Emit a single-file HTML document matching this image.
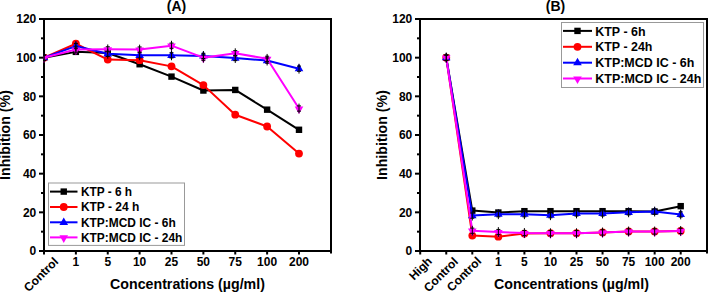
<!DOCTYPE html>
<html><head><meta charset="utf-8"><style>
html,body{margin:0;padding:0;background:#fff;width:708px;height:292px;overflow:hidden}
svg{display:block}
text{font-family:"Liberation Sans",sans-serif;font-weight:bold;fill:#000}
.t{font-size:12px}
.lg{font-size:10.5px}
.ax{font-size:14.2px}
.ti{font-size:14px}
</style></head><body>
<svg width="708" height="292" viewBox="0 0 708 292">
<path d="M44 19 H331 V253.5" fill="none" stroke="#000" stroke-width="2"/>
<path d="M44 18 V251.0" stroke="#000" stroke-width="2"/>
<path d="M39 251.0 H331" stroke="#000" stroke-width="2"/>
<path d="M39 251.00 H44" stroke="#000" stroke-width="2"/>
<text x="36.3" y="255.30" class="t" text-anchor="end">0</text>
<path d="M39 212.33 H44" stroke="#000" stroke-width="2"/>
<text x="36.3" y="216.63" class="t" text-anchor="end">20</text>
<path d="M39 173.67 H44" stroke="#000" stroke-width="2"/>
<text x="36.3" y="177.97" class="t" text-anchor="end">40</text>
<path d="M39 135.00 H44" stroke="#000" stroke-width="2"/>
<text x="36.3" y="139.30" class="t" text-anchor="end">60</text>
<path d="M39 96.33 H44" stroke="#000" stroke-width="2"/>
<text x="36.3" y="100.63" class="t" text-anchor="end">80</text>
<path d="M39 57.67 H44" stroke="#000" stroke-width="2"/>
<text x="36.3" y="61.97" class="t" text-anchor="end">100</text>
<path d="M39 19.00 H44" stroke="#000" stroke-width="2"/>
<text x="36.3" y="23.30" class="t" text-anchor="end">120</text>
<path d="M41 231.67 H44" stroke="#000" stroke-width="2"/>
<path d="M41 193.00 H44" stroke="#000" stroke-width="2"/>
<path d="M41 154.33 H44" stroke="#000" stroke-width="2"/>
<path d="M41 115.67 H44" stroke="#000" stroke-width="2"/>
<path d="M41 77.00 H44" stroke="#000" stroke-width="2"/>
<path d="M41 38.33 H44" stroke="#000" stroke-width="2"/>
<path d="M44.00 251.0 V254.5" stroke="#000" stroke-width="2"/>
<path d="M75.88 251.0 V254.5" stroke="#000" stroke-width="2"/>
<path d="M107.75 251.0 V254.5" stroke="#000" stroke-width="2"/>
<path d="M139.62 251.0 V254.5" stroke="#000" stroke-width="2"/>
<path d="M171.50 251.0 V254.5" stroke="#000" stroke-width="2"/>
<path d="M203.38 251.0 V254.5" stroke="#000" stroke-width="2"/>
<path d="M235.25 251.0 V254.5" stroke="#000" stroke-width="2"/>
<path d="M267.12 251.0 V254.5" stroke="#000" stroke-width="2"/>
<path d="M299.00 251.0 V254.5" stroke="#000" stroke-width="2"/>
<text x="75.88" y="265.7" class="t" text-anchor="middle">1</text>
<text x="107.75" y="265.7" class="t" text-anchor="middle">5</text>
<text x="139.62" y="265.7" class="t" text-anchor="middle">10</text>
<text x="171.50" y="265.7" class="t" text-anchor="middle">25</text>
<text x="203.38" y="265.7" class="t" text-anchor="middle">50</text>
<text x="235.25" y="265.7" class="t" text-anchor="middle">75</text>
<text x="267.12" y="265.7" class="t" text-anchor="middle">100</text>
<text x="299.00" y="265.7" class="t" text-anchor="middle">200</text>
<text transform="translate(59.00 262.4) rotate(-45)" class="t" text-anchor="end">Control</text>
<defs><clipPath id="ca"><rect x="43" y="0" width="300" height="292"/></clipPath></defs><g clip-path="url(#ca)"><path d="M44.00 57.67 L75.88 51.87 L107.75 53.03 L139.62 64.24 L171.50 76.61 L203.38 90.53 L235.25 89.95 L267.12 109.67 L299.00 129.78" fill="none" stroke="#000" stroke-width="2" stroke-linejoin="round"/>
<rect x="40.80" y="54.47" width="6.40" height="6.40" fill="#000"/>
<rect x="72.67" y="48.67" width="6.40" height="6.40" fill="#000"/>
<rect x="104.55" y="49.83" width="6.40" height="6.40" fill="#000"/>
<rect x="136.43" y="61.04" width="6.40" height="6.40" fill="#000"/>
<rect x="168.30" y="73.41" width="6.40" height="6.40" fill="#000"/>
<rect x="200.18" y="87.33" width="6.40" height="6.40" fill="#000"/>
<rect x="232.05" y="86.75" width="6.40" height="6.40" fill="#000"/>
<rect x="263.93" y="106.47" width="6.40" height="6.40" fill="#000"/>
<rect x="295.80" y="126.58" width="6.40" height="6.40" fill="#000"/>
<path d="M44.00 57.67 L75.88 43.75 L107.75 59.60 L139.62 60.18 L171.50 66.37 L203.38 85.12 L235.25 114.70 L267.12 126.49 L299.00 153.56" fill="none" stroke="#f00" stroke-width="2" stroke-linejoin="round"/>
<circle cx="44.00" cy="57.67" r="3.90" fill="#f00"/>
<circle cx="75.88" cy="43.75" r="3.90" fill="#f00"/>
<circle cx="107.75" cy="59.60" r="3.90" fill="#f00"/>
<circle cx="139.62" cy="60.18" r="3.90" fill="#f00"/>
<circle cx="171.50" cy="66.37" r="3.90" fill="#f00"/>
<circle cx="203.38" cy="85.12" r="3.90" fill="#f00"/>
<circle cx="235.25" cy="114.70" r="3.90" fill="#f00"/>
<circle cx="267.12" cy="126.49" r="3.90" fill="#f00"/>
<circle cx="299.00" cy="153.56" r="3.90" fill="#f00"/>
<path d="M44.00 57.67 L75.88 46.07 L107.75 53.80 L139.62 55.35 L171.50 55.35 L203.38 55.93 L235.25 58.05 L267.12 60.57 L299.00 68.69" fill="none" stroke="#00f" stroke-width="2" stroke-linejoin="round"/>
<path d="M44.00 52.77L48.30 60.27L39.70 60.27Z" fill="#00f"/>
<path d="M75.88 41.17L80.17 48.67L71.58 48.67Z" fill="#00f"/>
<path d="M107.75 48.90L112.05 56.40L103.45 56.40Z" fill="#00f"/>
<path d="M139.62 50.45L143.93 57.95L135.32 57.95Z" fill="#00f"/>
<path d="M171.50 50.45L175.80 57.95L167.20 57.95Z" fill="#00f"/>
<path d="M203.38 51.03L207.68 58.53L199.07 58.53Z" fill="#00f"/>
<path d="M235.25 53.15L239.55 60.65L230.95 60.65Z" fill="#00f"/>
<path d="M267.12 55.67L271.43 63.17L262.82 63.17Z" fill="#00f"/>
<path d="M299.00 63.79L303.30 71.29L294.70 71.29Z" fill="#00f"/>
<path d="M44.00 57.67 L75.88 49.55 L107.75 49.35 L139.62 49.55 L171.50 45.68 L203.38 57.67 L235.25 53.22 L267.12 58.83 L299.00 108.51" fill="none" stroke="#f0f" stroke-width="2" stroke-linejoin="round"/>
<path d="M44.00 63.27L48.30 55.57L39.70 55.57Z" fill="#f0f"/>
<path d="M75.88 55.15L80.17 47.45L71.58 47.45Z" fill="#f0f"/>
<path d="M107.75 54.95L112.05 47.25L103.45 47.25Z" fill="#f0f"/>
<path d="M139.62 55.15L143.93 47.45L135.32 47.45Z" fill="#f0f"/>
<path d="M171.50 51.28L175.80 43.58L167.20 43.58Z" fill="#f0f"/>
<path d="M203.38 63.27L207.68 55.57L199.07 55.57Z" fill="#f0f"/>
<path d="M235.25 58.82L239.55 51.12L230.95 51.12Z" fill="#f0f"/>
<path d="M267.12 64.43L271.43 56.73L262.82 56.73Z" fill="#f0f"/>
<path d="M299.00 114.11L303.30 106.41L294.70 106.41Z" fill="#f0f"/>
<path d="M44.00 52.77V62.57M42.00 55.07H46.00M42.00 60.27H46.00" stroke="#000" stroke-width="1" fill="none"/>
<path d="M75.88 41.17V50.97M73.88 43.47H77.88M73.88 48.67H77.88" stroke="#000" stroke-width="1" fill="none"/>
<path d="M107.75 48.90V58.70M105.75 51.20H109.75M105.75 56.40H109.75" stroke="#000" stroke-width="1" fill="none"/>
<path d="M139.62 50.45V60.25M137.62 52.75H141.62M137.62 57.95H141.62" stroke="#000" stroke-width="1" fill="none"/>
<path d="M171.50 50.45V60.25M169.50 52.75H173.50M169.50 57.95H173.50" stroke="#000" stroke-width="1" fill="none"/>
<path d="M203.38 51.03V60.83M201.38 53.33H205.38M201.38 58.53H205.38" stroke="#000" stroke-width="1" fill="none"/>
<path d="M235.25 53.15V62.95M233.25 55.45H237.25M233.25 60.65H237.25" stroke="#000" stroke-width="1" fill="none"/>
<path d="M267.12 55.67V65.47M265.12 57.97H269.12M265.12 63.17H269.12" stroke="#000" stroke-width="1" fill="none"/>
<path d="M299.00 63.79V73.59M297.00 66.09H301.00M297.00 71.29H301.00" stroke="#000" stroke-width="1" fill="none"/>
<path d="M44.00 52.77V62.57M42.00 55.07H46.00M42.00 60.27H46.00" stroke="#000" stroke-width="1" fill="none"/>
<path d="M75.88 44.65V54.45M73.88 46.95H77.88M73.88 52.15H77.88" stroke="#000" stroke-width="1" fill="none"/>
<path d="M107.75 44.45V54.25M105.75 46.75H109.75M105.75 51.95H109.75" stroke="#000" stroke-width="1" fill="none"/>
<path d="M139.62 44.65V54.45M137.62 46.95H141.62M137.62 52.15H141.62" stroke="#000" stroke-width="1" fill="none"/>
<path d="M171.50 40.78V50.58M169.50 43.08H173.50M169.50 48.28H173.50" stroke="#000" stroke-width="1" fill="none"/>
<path d="M203.38 52.77V62.57M201.38 55.07H205.38M201.38 60.27H205.38" stroke="#000" stroke-width="1" fill="none"/>
<path d="M235.25 48.32V58.12M233.25 50.62H237.25M233.25 55.82H237.25" stroke="#000" stroke-width="1" fill="none"/>
<path d="M267.12 53.93V63.73M265.12 56.23H269.12M265.12 61.43H269.12" stroke="#000" stroke-width="1" fill="none"/>
<path d="M299.00 103.61V113.41M297.00 105.91H301.00M297.00 111.11H301.00" stroke="#000" stroke-width="1" fill="none"/></g>
<rect x="48.5" y="183" width="136" height="62.4" fill="#fff" stroke="#999" stroke-width="1"/>
<path d="M50 191.6 H77.5" stroke="#000" stroke-width="2"/>
<rect x="60.55" y="188.40" width="6.40" height="6.40" fill="#000"/>
<text x="80.9" y="195.80" class="lg" style="font-size:12px" textLength="51.2" lengthAdjust="spacingAndGlyphs">KTP - 6 h</text>
<path d="M50 207 H77.5" stroke="#f00" stroke-width="2"/>
<circle cx="63.75" cy="207.00" r="3.90" fill="#f00"/>
<text x="80.9" y="211.20" class="lg" style="font-size:12px" textLength="58.4" lengthAdjust="spacingAndGlyphs">KTP - 24 h</text>
<path d="M50 222.3 H77.5" stroke="#00f" stroke-width="2"/>
<path d="M63.75 217.40L68.05 224.90L59.45 224.90Z" fill="#00f"/>
<text x="80.9" y="226.50" class="lg" style="font-size:12px" textLength="94.8" lengthAdjust="spacingAndGlyphs">KTP:MCD IC - 6h</text>
<path d="M50 237.4 H77.5" stroke="#f0f" stroke-width="2"/>
<path d="M63.75 243.00L68.05 235.30L59.45 235.30Z" fill="#f0f"/>
<text x="80.9" y="241.60" class="lg" style="font-size:12px" textLength="101.5" lengthAdjust="spacingAndGlyphs">KTP:MCD IC - 24h</text>
<text x="176.5" y="10.7" class="ti" text-anchor="middle">(A)</text>
<text x="187.5" y="288.7" class="ax" text-anchor="middle">Concentrations (µg/ml)</text>
<text transform="translate(10.3 135) rotate(-90)" class="ax" text-anchor="middle">Inhibition (%)</text>
<path d="M420 19 H707 V253.5" fill="none" stroke="#000" stroke-width="2"/>
<path d="M420 18 V251.0" stroke="#000" stroke-width="2"/>
<path d="M415 251.0 H707" stroke="#000" stroke-width="2"/>
<path d="M415 251.00 H420" stroke="#000" stroke-width="2"/>
<text x="412.3" y="255.30" class="t" text-anchor="end">0</text>
<path d="M415 212.33 H420" stroke="#000" stroke-width="2"/>
<text x="412.3" y="216.63" class="t" text-anchor="end">20</text>
<path d="M415 173.67 H420" stroke="#000" stroke-width="2"/>
<text x="412.3" y="177.97" class="t" text-anchor="end">40</text>
<path d="M415 135.00 H420" stroke="#000" stroke-width="2"/>
<text x="412.3" y="139.30" class="t" text-anchor="end">60</text>
<path d="M415 96.33 H420" stroke="#000" stroke-width="2"/>
<text x="412.3" y="100.63" class="t" text-anchor="end">80</text>
<path d="M415 57.67 H420" stroke="#000" stroke-width="2"/>
<text x="412.3" y="61.97" class="t" text-anchor="end">100</text>
<path d="M415 19.00 H420" stroke="#000" stroke-width="2"/>
<text x="412.3" y="23.30" class="t" text-anchor="end">120</text>
<path d="M417 231.67 H420" stroke="#000" stroke-width="2"/>
<path d="M417 193.00 H420" stroke="#000" stroke-width="2"/>
<path d="M417 154.33 H420" stroke="#000" stroke-width="2"/>
<path d="M417 115.67 H420" stroke="#000" stroke-width="2"/>
<path d="M417 77.00 H420" stroke="#000" stroke-width="2"/>
<path d="M417 38.33 H420" stroke="#000" stroke-width="2"/>
<path d="M420.20 251.0 V254.5" stroke="#000" stroke-width="2"/>
<path d="M446.25 251.0 V254.5" stroke="#000" stroke-width="2"/>
<path d="M472.30 251.0 V254.5" stroke="#000" stroke-width="2"/>
<path d="M498.35 251.0 V254.5" stroke="#000" stroke-width="2"/>
<path d="M524.40 251.0 V254.5" stroke="#000" stroke-width="2"/>
<path d="M550.45 251.0 V254.5" stroke="#000" stroke-width="2"/>
<path d="M576.50 251.0 V254.5" stroke="#000" stroke-width="2"/>
<path d="M602.55 251.0 V254.5" stroke="#000" stroke-width="2"/>
<path d="M628.60 251.0 V254.5" stroke="#000" stroke-width="2"/>
<path d="M654.65 251.0 V254.5" stroke="#000" stroke-width="2"/>
<path d="M680.70 251.0 V254.5" stroke="#000" stroke-width="2"/>
<text x="498.35" y="266.3" class="t" text-anchor="middle">1</text>
<text x="524.40" y="266.3" class="t" text-anchor="middle">5</text>
<text x="550.45" y="266.3" class="t" text-anchor="middle">10</text>
<text x="576.50" y="266.3" class="t" text-anchor="middle">25</text>
<text x="602.55" y="266.3" class="t" text-anchor="middle">50</text>
<text x="628.60" y="266.3" class="t" text-anchor="middle">75</text>
<text x="654.65" y="266.3" class="t" text-anchor="middle">100</text>
<text x="680.70" y="266.3" class="t" text-anchor="middle">200</text>
<text transform="translate(432.80 262) rotate(-45)" class="t" text-anchor="end">High</text>
<text transform="translate(458.85 262.5) rotate(-45)" class="t" text-anchor="end">Control</text>
<text transform="translate(482.00 262) rotate(-45)" class="t" text-anchor="end">Control</text>
<path d="M446.25 57.67 L472.30 210.59 L498.35 212.53 L524.40 211.17 L550.45 211.17 L576.50 211.17 L602.55 211.17 L628.60 211.17 L654.65 211.56 L680.70 206.15" fill="none" stroke="#000" stroke-width="2" stroke-linejoin="round"/>
<rect x="443.05" y="54.47" width="6.40" height="6.40" fill="#000"/>
<rect x="469.10" y="207.39" width="6.40" height="6.40" fill="#000"/>
<rect x="495.15" y="209.33" width="6.40" height="6.40" fill="#000"/>
<rect x="521.20" y="207.97" width="6.40" height="6.40" fill="#000"/>
<rect x="547.25" y="207.97" width="6.40" height="6.40" fill="#000"/>
<rect x="573.30" y="207.97" width="6.40" height="6.40" fill="#000"/>
<rect x="599.35" y="207.97" width="6.40" height="6.40" fill="#000"/>
<rect x="625.40" y="207.97" width="6.40" height="6.40" fill="#000"/>
<rect x="651.45" y="208.36" width="6.40" height="6.40" fill="#000"/>
<rect x="677.50" y="202.95" width="6.40" height="6.40" fill="#000"/>
<path d="M446.25 57.67 L472.30 235.53 L498.35 236.69 L524.40 233.60 L550.45 233.21 L576.50 233.21 L602.55 232.44 L628.60 231.47 L654.65 231.47 L680.70 230.89" fill="none" stroke="#f00" stroke-width="2" stroke-linejoin="round"/>
<circle cx="446.25" cy="57.67" r="3.90" fill="#f00"/>
<circle cx="472.30" cy="235.53" r="3.90" fill="#f00"/>
<circle cx="498.35" cy="236.69" r="3.90" fill="#f00"/>
<circle cx="524.40" cy="233.60" r="3.90" fill="#f00"/>
<circle cx="550.45" cy="233.21" r="3.90" fill="#f00"/>
<circle cx="576.50" cy="233.21" r="3.90" fill="#f00"/>
<circle cx="602.55" cy="232.44" r="3.90" fill="#f00"/>
<circle cx="628.60" cy="231.47" r="3.90" fill="#f00"/>
<circle cx="654.65" cy="231.47" r="3.90" fill="#f00"/>
<circle cx="680.70" cy="230.89" r="3.90" fill="#f00"/>
<path d="M446.25 57.67 L472.30 215.62 L498.35 214.27 L524.40 214.27 L550.45 215.23 L576.50 213.49 L602.55 213.49 L628.60 212.33 L654.65 211.56 L680.70 214.46" fill="none" stroke="#00f" stroke-width="2" stroke-linejoin="round"/>
<path d="M446.25 52.77L450.55 60.27L441.95 60.27Z" fill="#00f"/>
<path d="M472.30 210.72L476.60 218.22L468.00 218.22Z" fill="#00f"/>
<path d="M498.35 209.37L502.65 216.87L494.05 216.87Z" fill="#00f"/>
<path d="M524.40 209.37L528.70 216.87L520.10 216.87Z" fill="#00f"/>
<path d="M550.45 210.33L554.75 217.83L546.15 217.83Z" fill="#00f"/>
<path d="M576.50 208.59L580.80 216.09L572.20 216.09Z" fill="#00f"/>
<path d="M602.55 208.59L606.85 216.09L598.25 216.09Z" fill="#00f"/>
<path d="M628.60 207.43L632.90 214.93L624.30 214.93Z" fill="#00f"/>
<path d="M654.65 206.66L658.95 214.16L650.35 214.16Z" fill="#00f"/>
<path d="M680.70 209.56L685.00 217.06L676.40 217.06Z" fill="#00f"/>
<path d="M446.25 57.67 L472.30 230.70 L498.35 232.05 L524.40 233.02 L550.45 233.21 L576.50 233.21 L602.55 232.44 L628.60 231.47 L654.65 231.47 L680.70 230.89" fill="none" stroke="#f0f" stroke-width="2" stroke-linejoin="round"/>
<path d="M446.25 63.27L450.55 55.57L441.95 55.57Z" fill="#f0f"/>
<path d="M472.30 236.30L476.60 228.60L468.00 228.60Z" fill="#f0f"/>
<path d="M498.35 237.65L502.65 229.95L494.05 229.95Z" fill="#f0f"/>
<path d="M524.40 238.62L528.70 230.92L520.10 230.92Z" fill="#f0f"/>
<path d="M550.45 238.81L554.75 231.11L546.15 231.11Z" fill="#f0f"/>
<path d="M576.50 238.81L580.80 231.11L572.20 231.11Z" fill="#f0f"/>
<path d="M602.55 238.04L606.85 230.34L598.25 230.34Z" fill="#f0f"/>
<path d="M628.60 237.07L632.90 229.37L624.30 229.37Z" fill="#f0f"/>
<path d="M654.65 237.07L658.95 229.37L650.35 229.37Z" fill="#f0f"/>
<path d="M680.70 236.49L685.00 228.79L676.40 228.79Z" fill="#f0f"/>
<path d="M446.25 52.77V62.57M444.25 55.07H448.25M444.25 60.27H448.25" stroke="#000" stroke-width="1" fill="none"/>
<path d="M472.30 210.72V220.52M470.30 213.02H474.30M470.30 218.22H474.30" stroke="#000" stroke-width="1" fill="none"/>
<path d="M498.35 209.37V219.17M496.35 211.67H500.35M496.35 216.87H500.35" stroke="#000" stroke-width="1" fill="none"/>
<path d="M524.40 209.37V219.17M522.40 211.67H526.40M522.40 216.87H526.40" stroke="#000" stroke-width="1" fill="none"/>
<path d="M550.45 210.33V220.13M548.45 212.63H552.45M548.45 217.83H552.45" stroke="#000" stroke-width="1" fill="none"/>
<path d="M576.50 208.59V218.39M574.50 210.89H578.50M574.50 216.09H578.50" stroke="#000" stroke-width="1" fill="none"/>
<path d="M602.55 208.59V218.39M600.55 210.89H604.55M600.55 216.09H604.55" stroke="#000" stroke-width="1" fill="none"/>
<path d="M628.60 207.43V217.23M626.60 209.73H630.60M626.60 214.93H630.60" stroke="#000" stroke-width="1" fill="none"/>
<path d="M654.65 206.66V216.46M652.65 208.96H656.65M652.65 214.16H656.65" stroke="#000" stroke-width="1" fill="none"/>
<path d="M680.70 209.56V219.36M678.70 211.86H682.70M678.70 217.06H682.70" stroke="#000" stroke-width="1" fill="none"/>
<path d="M446.25 52.77V62.57M444.25 55.07H448.25M444.25 60.27H448.25" stroke="#000" stroke-width="1" fill="none"/>
<path d="M472.30 225.80V235.60M470.30 228.10H474.30M470.30 233.30H474.30" stroke="#000" stroke-width="1" fill="none"/>
<path d="M498.35 227.15V236.95M496.35 229.45H500.35M496.35 234.65H500.35" stroke="#000" stroke-width="1" fill="none"/>
<path d="M524.40 228.12V237.92M522.40 230.42H526.40M522.40 235.62H526.40" stroke="#000" stroke-width="1" fill="none"/>
<path d="M550.45 228.31V238.11M548.45 230.61H552.45M548.45 235.81H552.45" stroke="#000" stroke-width="1" fill="none"/>
<path d="M576.50 228.31V238.11M574.50 230.61H578.50M574.50 235.81H578.50" stroke="#000" stroke-width="1" fill="none"/>
<path d="M602.55 227.54V237.34M600.55 229.84H604.55M600.55 235.04H604.55" stroke="#000" stroke-width="1" fill="none"/>
<path d="M628.60 226.57V236.37M626.60 228.87H630.60M626.60 234.07H630.60" stroke="#000" stroke-width="1" fill="none"/>
<path d="M654.65 226.57V236.37M652.65 228.87H656.65M652.65 234.07H656.65" stroke="#000" stroke-width="1" fill="none"/>
<path d="M680.70 225.99V235.79M678.70 228.29H682.70M678.70 233.49H682.70" stroke="#000" stroke-width="1" fill="none"/>
<rect x="561.5" y="22.5" width="142" height="65" fill="#fff" stroke="#999" stroke-width="1"/>
<path d="M563 30.9 H592" stroke="#000" stroke-width="2"/>
<rect x="574.30" y="27.70" width="6.40" height="6.40" fill="#000"/>
<text x="595.3" y="35.80" class="lg" style="font-size:12.8px" textLength="50.2" lengthAdjust="spacingAndGlyphs">KTP - 6h</text>
<path d="M563 46.8 H592" stroke="#f00" stroke-width="2"/>
<circle cx="577.50" cy="46.80" r="3.90" fill="#f00"/>
<text x="595.3" y="50.60" class="lg" style="font-size:12.8px" textLength="57.1" lengthAdjust="spacingAndGlyphs">KTP - 24h</text>
<path d="M563 62.7 H592" stroke="#00f" stroke-width="2"/>
<path d="M577.50 57.80L581.80 65.30L573.20 65.30Z" fill="#00f"/>
<text x="595.3" y="66.90" class="lg" style="font-size:12.8px" textLength="99" lengthAdjust="spacingAndGlyphs">KTP:MCD IC - 6h</text>
<path d="M563 78.5 H592" stroke="#f0f" stroke-width="2"/>
<path d="M577.50 84.10L581.80 76.40L573.20 76.40Z" fill="#f0f"/>
<text x="595.3" y="82.70" class="lg" style="font-size:12.8px" textLength="106" lengthAdjust="spacingAndGlyphs">KTP:MCD IC - 24h</text>
<text x="555.5" y="10.7" class="ti" text-anchor="middle">(B)</text>
<text x="571.5" y="288.7" class="ax" text-anchor="middle">Concentrations (µg/ml)</text>
<text transform="translate(386.6 135) rotate(-90)" class="ax" text-anchor="middle">Inhibition (%)</text>
</svg>
</body></html>
